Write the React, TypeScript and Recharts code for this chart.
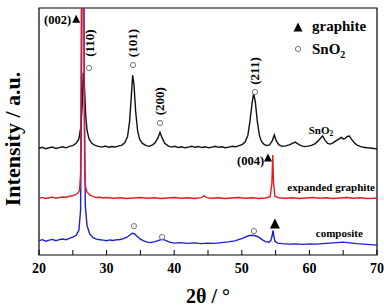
import React from 'react';
import { LineChart, Line, XAxis, YAxis, ReferenceArea, ReferenceDot, Legend } from 'recharts';

const SERIF = '"Liberation Serif", "Times New Roman", serif';

// 2θ axis ticks (every 5°, labels on every 10°)
const angleTicks = [20, 25, 30, 35, 40, 45, 50, 55, 60, 65, 70];

// Diffraction patterns as [2θ, offset intensity]
const tinOxidePattern: [number, number][] = [
  [20, 432], [20.5, 436], [21, 430], [21.5, 434], [22, 437], [22.5, 431], [23, 435], [23.5, 438],
  [24, 434], [24.5, 440], [25, 443], [25.5, 452], [25.9, 470], [26.2, 520], [26.4, 610], [26.55, 738],
  [26.7, 690], [26.9, 570], [27.1, 505], [27.4, 470], [27.8, 452], [28.3, 444], [28.8, 440], [29.3, 437],
  [29.8, 441], [30.3, 436], [30.8, 439], [31.3, 437], [31.8, 442], [32.3, 445], [32.7, 455], [33.1, 480],
  [33.4, 540], [33.65, 640], [33.85, 728], [34.05, 690], [34.3, 580], [34.6, 500], [34.9, 468], [35.3, 452],
  [35.8, 444], [36.3, 440], [36.8, 446], [37.2, 455], [37.6, 475], [37.9, 497], [38.2, 475], [38.6, 452],
  [39.1, 442], [39.6, 437], [40.1, 440], [40.6, 435], [41.1, 438], [41.6, 434], [42.1, 437], [42.6, 440],
  [43.1, 436], [43.6, 439], [44.1, 435], [44.6, 438], [45.1, 434], [45.6, 437], [46.1, 440], [46.6, 436],
  [47.1, 438], [47.6, 434], [48.1, 437], [48.6, 440], [49.1, 438], [49.6, 443], [50.1, 448], [50.5, 458],
  [50.9, 485], [51.2, 540], [51.5, 610], [51.75, 655], [52.0, 620], [52.3, 540], [52.6, 485], [52.9, 460],
  [53.3, 448], [53.7, 443], [54.1, 446], [54.5, 462], [54.8, 486], [55.1, 462], [55.5, 446], [56.0, 440],
  [56.5, 442], [57.0, 446], [57.5, 452], [57.9, 457], [58.3, 450], [58.8, 442], [59.3, 439], [59.8, 441],
  [60.3, 444], [60.8, 450], [61.3, 462], [61.7, 475], [61.95, 482], [62.3, 465], [62.7, 452], [63.1, 449],
  [63.5, 454], [63.9, 462], [64.3, 468], [64.7, 476], [65.0, 470], [65.3, 472], [65.6, 480], [65.9, 482],
  [66.2, 470], [66.6, 455], [67.0, 446], [67.5, 440], [68.0, 436], [68.5, 434], [69.0, 433], [69.5, 431],
  [70, 430],
];

const expandedGraphitePattern: [number, number][] = [
  [20, 230], [20.5, 233], [21, 229], [21.5, 232], [22, 234], [22.5, 230], [23, 233], [23.5, 235],
  [24, 234], [24.5, 238], [25, 240], [25.4, 244], [25.8, 252], [26.0, 262], [26.15, 330], [26.22, 700],
  [26.28, 1100], [26.45, 1600], [26.62, 1100], [26.68, 700], [26.75, 340], [26.9, 275], [27.1, 255],
  [27.5, 243], [28, 236], [28.5, 233], [29, 234], [29.5, 231], [30, 233], [31, 230], [32, 232], [33, 229],
  [34, 231], [35, 233], [36, 230], [37, 232], [38, 229], [39, 231], [40, 233], [41, 230], [42, 232],
  [43, 229], [44, 232], [44.4, 240], [44.8, 232], [45.5, 230], [46.5, 232], [47.5, 229], [48.5, 231],
  [49.5, 233], [50.5, 230], [51.5, 232], [52.5, 229], [53.5, 231], [54.2, 236], [54.45, 290], [54.58, 405],
  [54.7, 290], [54.9, 238], [55.4, 232], [56.5, 230], [57.5, 232], [58.5, 229], [59.5, 231], [60.5, 233],
  [61.5, 230], [62.5, 232], [63.5, 229], [64.5, 231], [65.5, 233], [66.5, 230], [67.5, 232], [68.5, 229],
  [69.5, 230], [70, 231],
];

const compositePattern: [number, number][] = [
  [20, 58], [20.5, 62], [21, 56], [21.5, 60], [22, 63], [22.5, 58], [23, 62], [23.5, 65], [24, 62],
  [24.5, 67], [25, 72], [25.5, 80], [25.9, 100], [26.15, 180], [26.25, 500], [26.35, 1000], [26.5, 1500],
  [26.65, 1000], [26.75, 500], [26.85, 200], [27.1, 120], [27.5, 85], [28, 70], [28.5, 64], [29, 62],
  [29.5, 60], [30, 58], [30.5, 61], [31, 59], [31.5, 62], [32, 63], [32.5, 66], [33, 72], [33.4, 80],
  [33.8, 88], [34.1, 86], [34.5, 76], [35, 64], [35.5, 57], [36, 52], [36.5, 50], [37, 53], [37.5, 57],
  [38, 62], [38.4, 63], [38.8, 58], [39.3, 52], [40, 48], [41, 50], [42, 47], [43, 49], [44, 46], [45, 48],
  [46, 47], [47, 50], [48, 53], [49, 57], [49.5, 62], [50, 66], [50.5, 72], [51, 78], [51.5, 80], [52, 78],
  [52.5, 72], [53, 62], [53.5, 54], [54, 52], [54.3, 58], [54.5, 80], [54.62, 100], [54.75, 75], [54.9, 55],
  [55.3, 48], [56, 46], [57, 44], [58, 45], [59, 43], [60, 45], [61, 44], [62, 46], [63, 48], [64, 50],
  [65, 52], [66, 49], [67, 46], [68, 44], [69, 42], [70, 40],
];

// Reflection indices (rotated) and phase markers, in [2θ, intensity]
const planeLabels: [string, number, number][] = [
  ['(110)', 27.5, 858],
  ['(101)', 33.9, 858],
  ['(200)', 37.9, 623],
  ['(211)', 51.95, 745],
];
const tinOxideMarks: [number, number][] = [
  [27.4, 757], [33.9, 769], [37.9, 534], [51.95, 660],
  [34.05, 117], [38.2, 73], [51.8, 97],
];
const graphiteMarks: [number, number, number][] = [
  [25.5, 955, 8], [53.88, 393, 8], [54.9, 126, 10],
];
const noteLabels: [string, number, number, 'start' | 'end'][] = [
  ['(002)', 24.75, 951, 'end'],
  ['(004)', 53.3, 381, 'end'],
  ['expanded graphite', 69.7, 275, 'end'],
  ['composite', 67.9, 89, 'end'],
];
const seriesTags: [string, string, number, number][] = [['Sn', 'O', 59.9, 506]];

const toPoints = (rows: [number, number][]) => rows.map(([x, y]) => ({ x, y }));

const triangle = (cx: number, cy: number, s: number) =>
  `${cx},${cy - s * 0.55} ${cx - s / 2},${cy + s * 0.45} ${cx + s / 2},${cy + s * 0.45}`;

const AngleTick = (props: any) => {
  const { x, y, payload } = props;
  const major = payload.value % 10 === 0;
  return (
    <g>
      <line x1={x} x2={x} y1={y} y2={y - 5} stroke="#000" strokeWidth={1} />
      {major && (
        <text x={x} y={y + 18} textAnchor="middle" fontFamily={SERIF} fontWeight="bold" fontSize={14} fill="#000">
          {payload.value}
        </text>
      )}
    </g>
  );
};

const LegendBlock = () => (
  <div style={{ fontFamily: SERIF, fontWeight: 'bold', fontSize: 15, color: '#000', lineHeight: '23px' }}>
    <div style={{ display: 'flex', alignItems: 'center', height: 23 }}>
      <svg width={12} height={12} style={{ display: 'block' }}>
        <polygon points={triangle(6, 6.5, 9)} fill="#000" />
      </svg>
      <span style={{ marginLeft: 8 }}>graphite</span>
    </div>
    <div style={{ display: 'flex', alignItems: 'center', height: 23 }}>
      <svg width={12} height={12} style={{ display: 'block' }}>
        <circle cx={6} cy={5} r={2.6} fill="#fff" stroke="#666" strokeWidth={0.9} />
      </svg>
      <span style={{ marginLeft: 8 }}>
        SnO<sub style={{ fontSize: 10, verticalAlign: -4, lineHeight: 0 }}>2</sub>
      </span>
    </div>
  </div>
);

export default function App() {
  return (
    <div style={{ position: 'absolute', left: 0, top: 0, width: 384, height: 307, background: '#fff' }}>
      <LineChart width={384} height={307} margin={{ top: 8, right: 7, left: 0, bottom: 0 }}>
        <XAxis
          type="number"
          dataKey="x"
          domain={[20, 70]}
          ticks={angleTicks}
          height={52}
          axisLine={false}
          tickLine={false}
          tickSize={0}
          tickMargin={0}
          tick={<AngleTick />}
          interval={0}
          label={(p: any) => {
            const vb = p.viewBox || {};
            const cx = (vb.x ?? 39) + (vb.width ?? 338) / 2;
            return (
              <text x={cx} y={303} textAnchor="middle" fontFamily={SERIF} fontWeight="bold" fontSize={20} fill="#000">
                2θ / °
              </text>
            );
          }}
        />
        <YAxis
          type="number"
          domain={[0, 1000]}
          allowDataOverflow
          width={39}
          tick={false}
          tickLine={false}
          axisLine={false}
          label={() => (
            <text
              x={20}
              y={139}
              transform="rotate(-90 20 139)"
              textAnchor="middle"
              fontFamily={SERIF}
              fontWeight="bold"
              fontSize={22}
              fill="#000"
            >
              Intensity / a.u.
            </text>
          )}
        />
        <ReferenceArea x1={20} x2={70} y1={0} y2={1000} fill="none" stroke="#000" strokeWidth={1.2} fillOpacity={0} />
        <Line data={toPoints(tinOxidePattern)} dataKey="y" stroke="#111" strokeWidth={1.4} dot={false} isAnimationActive={false} />
        <Line data={toPoints(compositePattern)} dataKey="y" stroke="#1f1fd0" strokeWidth={1.4} dot={false} isAnimationActive={false} />
        <Line data={toPoints(expandedGraphitePattern)} dataKey="y" stroke="#e41b23" strokeWidth={1.4} dot={false} isAnimationActive={false} />
        {planeLabels.map(([t, x, y]) => (
          <ReferenceDot
            key={t}
            x={x}
            y={y}
            r={0}
            shape={(p: any) => (
              <text
                x={p.cx}
                y={p.cy}
                transform={`rotate(-90 ${p.cx} ${p.cy})`}
                textAnchor="middle"
                dominantBaseline="central"
                fontFamily={SERIF}
                fontWeight="bold"
                fontSize={13}
                fill="#000"
              >
                {t}
              </text>
            )}
          />
        ))}
        {tinOxideMarks.map(([x, y], i) => (
          <ReferenceDot
            key={`c${i}`}
            x={x}
            y={y}
            r={2.6}
            shape={(p: any) => <circle cx={p.cx} cy={p.cy} r={2.6} fill="#fff" stroke="#666" strokeWidth={0.9} />}
          />
        ))}
        {graphiteMarks.map(([x, y, s], i) => (
          <ReferenceDot
            key={`t${i}`}
            x={x}
            y={y}
            r={s / 2}
            shape={(p: any) => <polygon points={triangle(p.cx, p.cy, s)} fill="#000" />}
          />
        ))}
        {noteLabels.map(([t, x, y, anchor]) => (
          <ReferenceDot
            key={t}
            x={x}
            y={y}
            r={0}
            shape={(p: any) => (
              <text
                x={p.cx}
                y={p.cy}
                textAnchor={anchor}
                dominantBaseline="central"
                fontFamily={SERIF}
                fontWeight="bold"
                fontSize={t.startsWith('(') ? 12.5 : 11}
                fill="#000"
              >
                {t}
              </text>
            )}
          />
        ))}
        {seriesTags.map(([a, b, x, y]) => (
          <ReferenceDot
            key={a + b}
            x={x}
            y={y}
            r={0}
            shape={(p: any) => (
              <text x={p.cx} y={p.cy} dominantBaseline="central" fontFamily={SERIF} fontWeight="bold" fontSize={11} fill="#000">
                {a}{b}
                <tspan fontSize={7.5} dy={3}>2</tspan>
              </text>
            )}
          />
        ))}
        <Legend
          layout="horizontal"
          verticalAlign="middle"
          align="center"
          wrapperStyle={{ position: 'absolute', left: 292, top: 15, width: 90, height: 50 }}
          content={() => <LegendBlock />}
        />
      </LineChart>
    </div>
  );
}
